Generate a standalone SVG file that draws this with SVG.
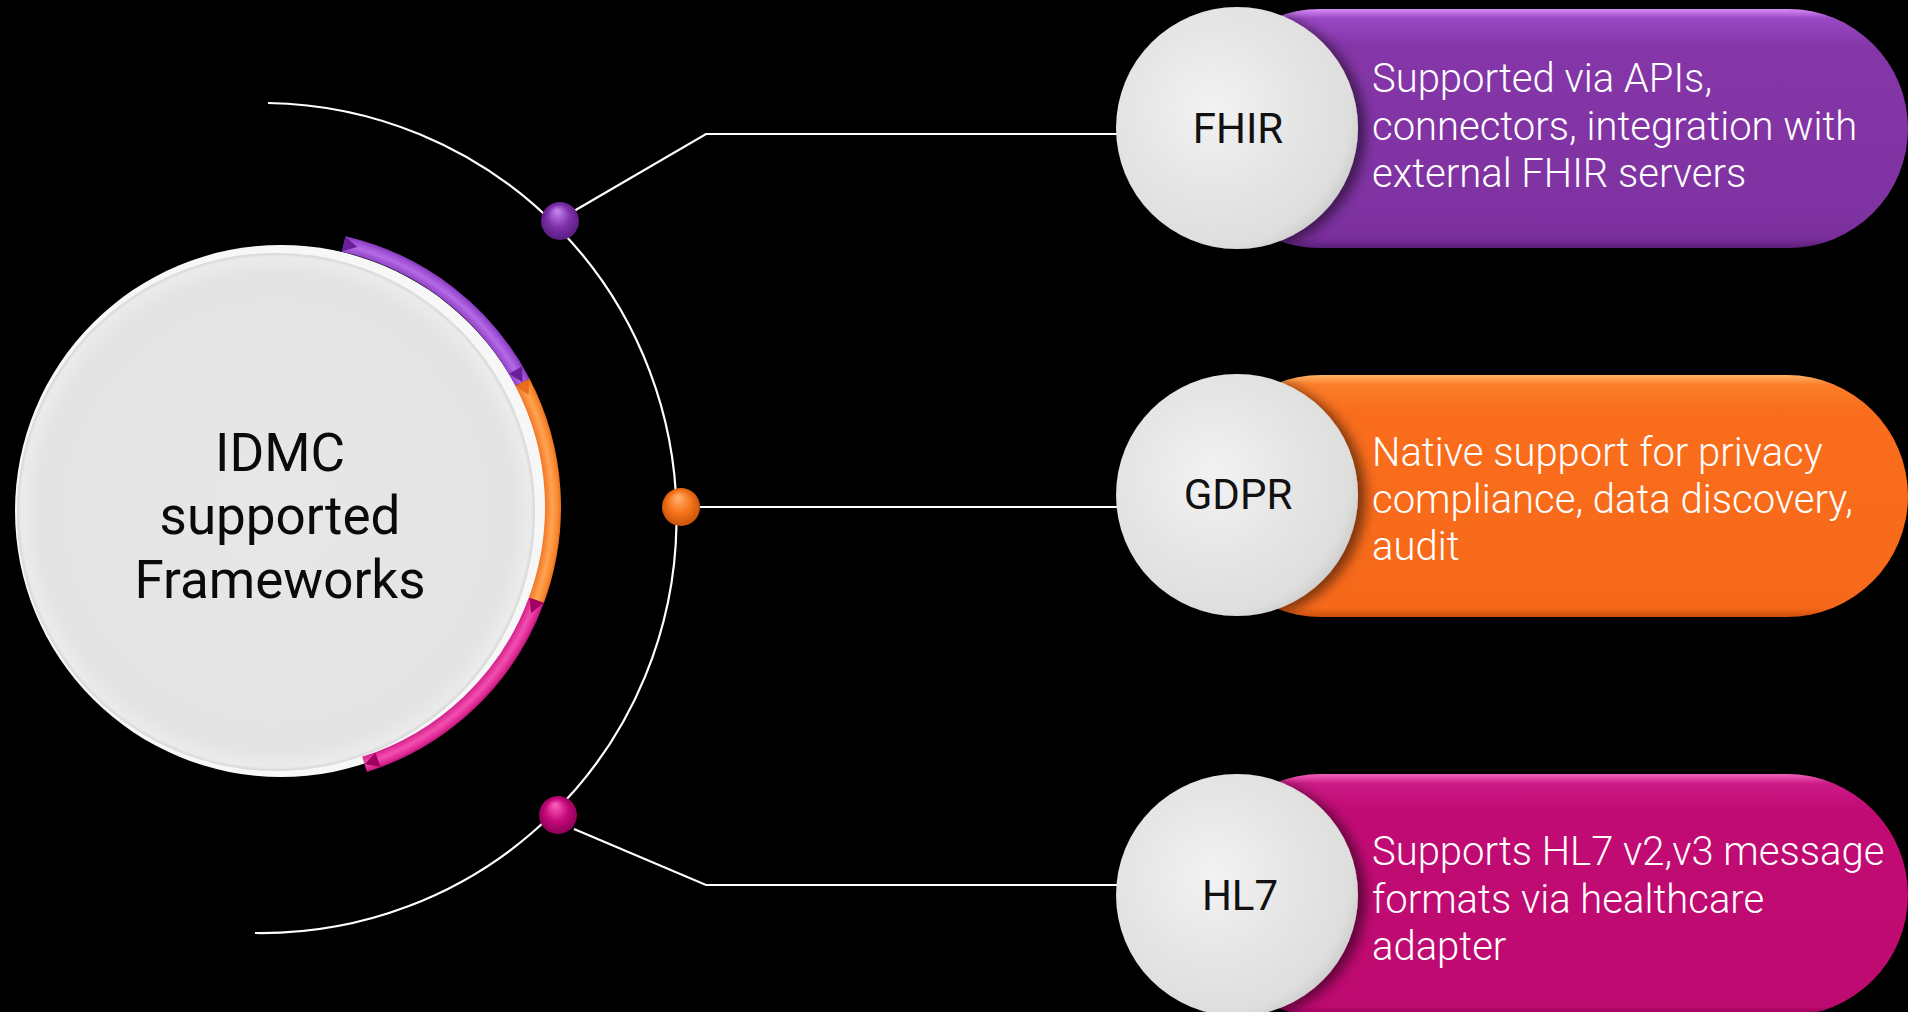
<svg xmlns="http://www.w3.org/2000/svg" width="1908" height="1012" viewBox="0 0 1908 1012">
  <defs>
    <radialGradient id="discGrad" cx="0.4" cy="0.42" r="0.65">
      <stop offset="0" stop-color="#f2f2f2"/>
      <stop offset="0.55" stop-color="#e4e5e4"/>
      <stop offset="0.88" stop-color="#dededd"/>
      <stop offset="1" stop-color="#c9c9c9"/>
    </radialGradient>
    <radialGradient id="bigDisc" cx="0.5" cy="0.5" r="0.5">
      <stop offset="0" stop-color="#e6e7e6"/>
      <stop offset="0.92" stop-color="#e3e4e3"/>
      <stop offset="0.985" stop-color="#ebebeb"/>
      <stop offset="1" stop-color="#d6d6d6"/>
    </radialGradient>
    <linearGradient id="gPurple" x1="0" y1="0" x2="0" y2="1">
      <stop offset="0" stop-color="#d68cf6"/>
      <stop offset="0.04" stop-color="#9a48c4"/>
      <stop offset="0.15" stop-color="#8536a8"/>
      <stop offset="0.85" stop-color="#7f32a2"/>
      <stop offset="0.96" stop-color="#792e9b"/>
      <stop offset="1" stop-color="#5a1e78"/>
    </linearGradient>
    <linearGradient id="gOrange" x1="0" y1="0" x2="0" y2="1">
      <stop offset="0" stop-color="#ffb266"/>
      <stop offset="0.04" stop-color="#fc7e2a"/>
      <stop offset="0.15" stop-color="#f96d1c"/>
      <stop offset="0.96" stop-color="#f7691a"/>
      <stop offset="1" stop-color="#cc500c"/>
    </linearGradient>
    <linearGradient id="gMagenta" x1="0" y1="0" x2="0" y2="1">
      <stop offset="0" stop-color="#f262ba"/>
      <stop offset="0.04" stop-color="#cc1a86"/>
      <stop offset="0.15" stop-color="#c10b74"/>
      <stop offset="0.96" stop-color="#bd0a70"/>
      <stop offset="1" stop-color="#8e0054"/>
    </linearGradient>
    <radialGradient id="bandPurple" gradientUnits="userSpaceOnUse" cx="283" cy="507" r="279">
      <stop offset="0.935" stop-color="#8a3cc0"/>
      <stop offset="0.965" stop-color="#b56ae6"/>
      <stop offset="0.985" stop-color="#9c4fd2"/>
      <stop offset="1" stop-color="#7a2fb0"/>
    </radialGradient>
    <radialGradient id="bandOrange" gradientUnits="userSpaceOnUse" cx="283" cy="507" r="279">
      <stop offset="0.935" stop-color="#f07020"/>
      <stop offset="0.965" stop-color="#ffa352"/>
      <stop offset="0.985" stop-color="#fb8a30"/>
      <stop offset="1" stop-color="#e0661a"/>
    </radialGradient>
    <radialGradient id="bandMagenta" gradientUnits="userSpaceOnUse" cx="283" cy="507" r="279">
      <stop offset="0.935" stop-color="#d01a85"/>
      <stop offset="0.965" stop-color="#f24fb0"/>
      <stop offset="0.985" stop-color="#e02a95"/>
      <stop offset="1" stop-color="#b0106e"/>
    </radialGradient>
    <radialGradient id="dotPurple" cx="0.5" cy="0.5" fx="0.42" fy="0.22" r="0.55">
      <stop offset="0" stop-color="#c988f2"/>
      <stop offset="0.55" stop-color="#7d30a8"/>
      <stop offset="1" stop-color="#561a7c"/>
    </radialGradient>
    <radialGradient id="dotOrange" cx="0.5" cy="0.5" fx="0.42" fy="0.22" r="0.55">
      <stop offset="0" stop-color="#ffb574"/>
      <stop offset="0.55" stop-color="#f7741a"/>
      <stop offset="1" stop-color="#c24f08"/>
    </radialGradient>
    <radialGradient id="dotMagenta" cx="0.5" cy="0.5" fx="0.42" fy="0.22" r="0.55">
      <stop offset="0" stop-color="#ff62bd"/>
      <stop offset="0.55" stop-color="#c4087a"/>
      <stop offset="1" stop-color="#860052"/>
    </radialGradient>
    <filter id="discShadow" x="-20%" y="-20%" width="150%" height="140%">
      <feDropShadow dx="8" dy="3" stdDeviation="6" flood-color="#000" flood-opacity="0.5"/>
    </filter>
  </defs>
  <style>
    .pilltext { font-family: "Roboto Light", Roboto, "Liberation Sans", sans-serif; font-weight: 300; font-size: 40px; fill: #ffffff; }
    .label { font-family: Roboto, "Liberation Sans", sans-serif; font-weight: 400; font-size: 42px; fill: #111111; text-anchor: middle; }
    .title { font-family: Roboto, "Liberation Sans", sans-serif; font-weight: 400; font-size: 53px; fill: #0a0a0a; text-anchor: middle; }
    .wire { fill: none; stroke: #ffffff; stroke-width: 2.2; }
    .disc { fill: url(#discGrad); filter: url(#discShadow); }
  </style>

  <rect x="0" y="0" width="1908" height="1012" fill="#000000"/>

  <g id="connectors">
    <path class="wire" d="M 268 103 A 415 415 0 1 1 255 933"/>
    <polyline class="wire" points="574,211 706,134 1140,134"/>
    <polyline class="wire" points="700,507 1140,507"/>
    <polyline class="wire" points="574,829 706,885 1140,885"/>
    <circle cx="560" cy="221" r="19" fill="url(#dotPurple)"/>
    <circle cx="681" cy="507" r="19" fill="url(#dotOrange)"/>
    <circle cx="558" cy="815" r="19" fill="url(#dotMagenta)"/>
  </g>

  <g id="node-center">
    <circle cx="281" cy="511" r="266" fill="#f7f7f7"/>
    <circle cx="276" cy="512" r="259" fill="url(#bigDisc)"/>
    <path d="M 343.74 243.92 A 270 270 0 0 1 522.49 382.33" fill="none" stroke="url(#bandPurple)" stroke-width="16"/>
    <path d="M 522.49 382.33 A 270 270 0 0 1 536.39 600.23" fill="none" stroke="url(#bandOrange)" stroke-width="16"/>
    <path d="M 536.39 600.23 A 270 270 0 0 1 364.64 764.36" fill="none" stroke="url(#bandMagenta)" stroke-width="16"/>
    <polygon points="342.05,251.23 345.42,236.61 357.38,247.07" fill="#6a1f9a"/>
    <polygon points="509.18,373.77 522.10,366.16 522.49,382.33" fill="#6a1f9a"/>
    <polygon points="515.84,385.79 529.15,378.86 528.69,395.03" fill="#e05a10" opacity="0.7"/>
    <polygon points="529.35,597.64 543.43,602.82 531.17,613.36" fill="#a00060"/>
    <polygon points="375.36,752.72 380.64,766.76 364.64,764.36" fill="#a00060"/>
    <text class="title" x="280" y="471">IDMC</text>
    <text class="title" x="280" y="534">supported</text>
    <text class="title" x="280" y="598">Frameworks</text>
  </g>

  <g id="node-fhir">
    <rect x="1200" y="9" width="708" height="239" rx="119.5" ry="119.5" fill="url(#gPurple)"/>
    <circle class="disc" cx="1237" cy="128" r="121"/>
    <text class="label" x="1238" y="143">FHIR</text>
    <text class="pilltext" x="1372" y="92">Supported via APIs,</text>
    <text class="pilltext" x="1372" y="140">connectors, integration with</text>
    <text class="pilltext" x="1372" y="187">external FHIR servers</text>
  </g>

  <g id="node-gdpr">
    <rect x="1200" y="375" width="708" height="242" rx="121" ry="121" fill="url(#gOrange)"/>
    <circle class="disc" cx="1237" cy="495" r="121"/>
    <text class="label" x="1238" y="509">GDPR</text>
    <text class="pilltext" x="1372" y="466">Native support for privacy</text>
    <text class="pilltext" x="1372" y="513">compliance, data discovery,</text>
    <text class="pilltext" x="1372" y="560">audit</text>
  </g>

  <g id="node-hl7">
    <rect x="1200" y="774" width="708" height="242" rx="121" ry="121" fill="url(#gMagenta)"/>
    <circle class="disc" cx="1237" cy="895" r="121"/>
    <text class="label" x="1240" y="910">HL7</text>
    <text class="pilltext" x="1372" y="865">Supports HL7 v2,v3 message</text>
    <text class="pilltext" x="1372" y="913">formats via healthcare</text>
    <text class="pilltext" x="1372" y="960">adapter</text>
  </g>
</svg>
